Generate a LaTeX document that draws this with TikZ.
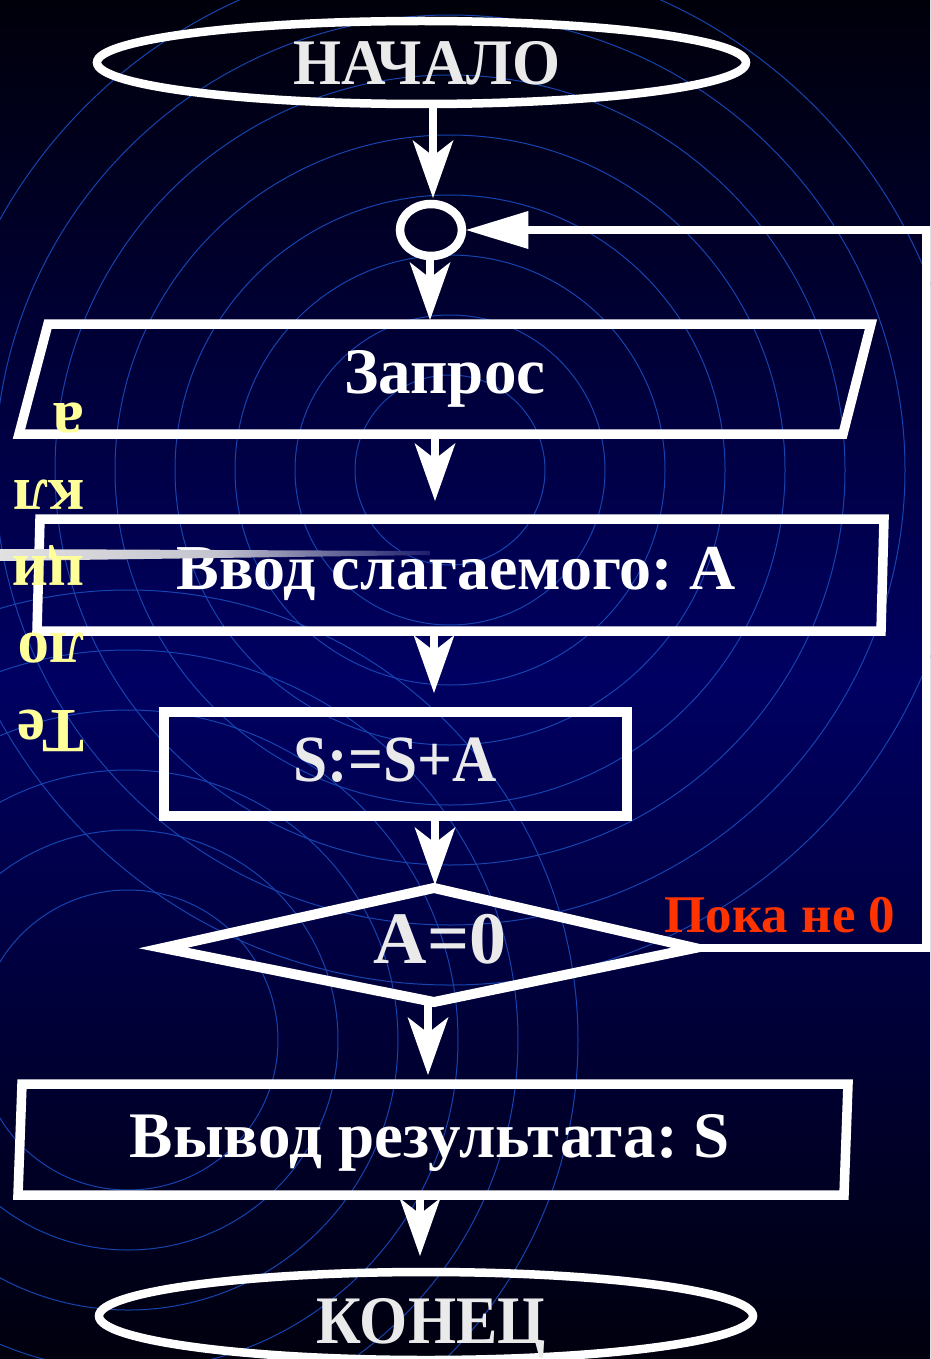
\documentclass[tikz,border=0pt]{standalone}
\usepackage{fontspec}
\setmainfont{Liberation Serif}
\usepackage{graphicx}
\usetikzlibrary{arrows.meta,shapes.geometric}

\definecolor{navy}{RGB}{0,0,98}
\definecolor{topc}{RGB}{0,0,10}
\definecolor{botc}{RGB}{0,0,14}
\definecolor{ripple}{RGB}{22,68,175}
\definecolor{lgray}{RGB}{234,234,234}
\definecolor{ylw}{RGB}{255,255,153}
\definecolor{redt}{RGB}{255,51,0}
\definecolor{wedgel}{RGB}{225,225,225}
\definecolor{wedger}{RGB}{30,30,110}

\begin{document}
\frenchspacing
\begin{tikzpicture}[x=1pt,y=-1pt,
  boxline/.style={draw=white, line width=9.5pt, line join=miter},
  ellline/.style={draw=white, line width=8.5pt, ellipse, inner sep=0pt},
  lbl/.style={inner sep=0pt, anchor=base, text=white},
  bigfont/.style={font=\bfseries\fontsize{#1}{#1}\selectfont},
  arr/.style={draw=white, line width=8.5pt,
    -{Stealth[length=58pt,width=41pt,inset=16pt,line width=0pt]}},
  looparr/.style={draw=white, line width=8pt, line join=miter,
    -{Triangle[length=62pt,width=38pt,line width=0pt]}},
  rip/.style={draw=ripple, line width=1pt},
  ylwtxt/.style={inner sep=0pt, anchor=base west, rotate=180, text=ylw,
    font=\bfseries\fontsize{63}{63}\selectfont}
]
\useasboundingbox (0,0) rectangle (930,1359);
% background
\shade[top color=topc, bottom color=botc, middle color=navy] (0,0) rectangle (930,1359);
\begin{scope}
\clip (0,0) rectangle (930,1359);
\foreach \r in {95,155,215,275,335,395,455,515}
  \draw[rip] (450,470) circle[radius=\r];
\foreach \r in {150,210,270,330,390,450}
  \draw[rip] (128,1040) circle[radius=\r];
\end{scope}

% shapes
\node[ellline, minimum width=649pt, minimum height=83pt] (start) at (421.5,62.5) {};
\node[ellline, minimum width=62pt, minimum height=52pt] (conn) at (431,230) {};
\coordinate (qTL) at (48,324); \coordinate (qTR) at (871,324);
\coordinate (qBR) at (843,434); \coordinate (qBL) at (19,434);
\draw[boxline] (qTL) -- (qTR) -- (qBR) -- (qBL) -- cycle;
\coordinate (iTL) at (40,519); \coordinate (iTR) at (884,519);
\coordinate (iBR) at (881,631); \coordinate (iBL) at (37,631);
\draw[boxline] (iTL) -- (iTR) -- (iBR) -- (iBL) -- cycle;
\node[boxline, rectangle, minimum width=463pt, minimum height=104pt, inner sep=0pt] (calc) at (395.5,764) {};
\coordinate (dT) at (434,888); \coordinate (dL) at (163,948);
\coordinate (dB) at (434,1002); \coordinate (dR) at (695,948);
\draw[boxline, line width=10pt] (dT) -- (dR) -- (dB) -- (dL) -- cycle;
\coordinate (oTL) at (22,1084); \coordinate (oTR) at (848,1084);
\coordinate (oBR) at (844,1195); \coordinate (oBL) at (18,1195);
\draw[boxline] (oTL) -- (oTR) -- (oBR) -- (oBL) -- cycle;
\node[ellline, minimum width=654pt, minimum height=88pt] (end) at (426,1316) {};

% arrows
\coordinate (a1s) at (433,104);  \coordinate (a1e) at (433,198);
\coordinate (a2s) at (430,256);  \coordinate (a2e) at (430,320);
\coordinate (a3s) at (435,434);  \coordinate (a3e) at (435,501);
\coordinate (a4s) at (434,631);  \coordinate (a4e) at (434,693);
\coordinate (a5s) at (435,816);  \coordinate (a5e) at (435,885);
\coordinate (a6s) at (428,1002); \coordinate (a6e) at (428,1075);
\coordinate (a7s) at (420,1195); \coordinate (a7e) at (420,1256);
\foreach \i in {1,...,7} \draw[arr] (a\i s) -- (a\i e);
\coordinate (lp1) at (926,948); \coordinate (lp2) at (926,230);
\draw[looparr] (dR) -- (lp1) -- (lp2) -- (conn.east);

% texts
\node[lbl, text=lgray, bigfont=65] (startlbl) at (427,85) {\scalebox{0.95}[1]{НАЧАЛО}};
\node[lbl, bigfont=65] (qlbl) at (445,393) {Запрос};
\node[lbl, bigfont=64] (ilbl) at (456,589) {Ввод слагаемого: A};
\node[lbl, text=lgray, bigfont=66] (clbl) at (395,781) {\scalebox{0.93}[1]{S:=S+A}};
\node[lbl, text=lgray, bigfont=74] (dlbl) at (440,963) {A=0};
\node[lbl, text=redt, bigfont=53] (loopl) at (780,932) {Пока не 0};
\node[lbl, bigfont=65] (olbl) at (430,1157) {Вывод результата: S};
\node[lbl, text=lgray, bigfont=68] (endlbl) at (431,1343) {\scalebox{0.91}[1]{КОНЕЦ}};

% grey wedge
\shade[left color=wedgel, right color=wedger, middle color=wedgel!85!wedger]
  (0,549) -- (430,551) -- (430,555) -- (0,561) -- cycle;

% rotated yellow text
\node[ylwtxt] (y1) at (85,710) {Те};
\node[ylwtxt] (y2) at (85,633) {ло};
\node[ylwtxt] (y3) at (85,556) {ци};
\node[ylwtxt] (y4) at (85,480) {кл};
\node[ylwtxt] (y5) at (85,403) {а};
\end{tikzpicture}
\end{document}
